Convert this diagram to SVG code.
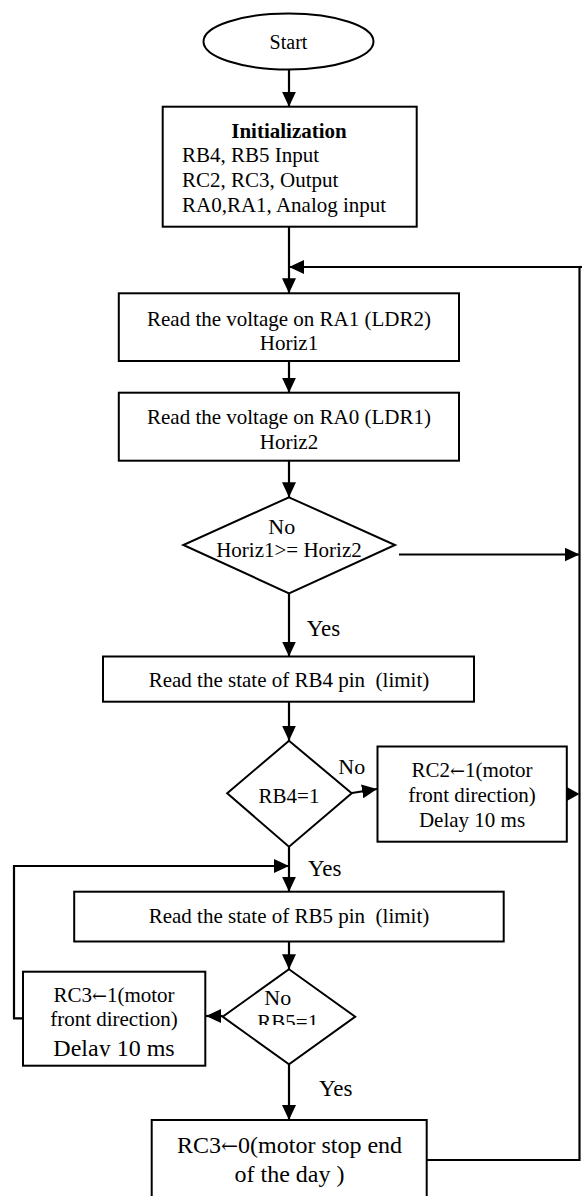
<svg xmlns="http://www.w3.org/2000/svg" width="582" height="1196" viewBox="0 0 582 1196">
<style>
text{font-family:"Liberation Serif","Times New Roman",serif;font-size:21px;fill:#000;white-space:pre}
.c{text-anchor:middle}
.b{font-weight:bold}
.lg{font-size:23px}
.xl{font-size:24px}
.arr{font-family:"DejaVu Serif","DejaVu Sans",serif;font-size:0.85em}
.shape{fill:#fff;stroke:#000;stroke-width:2}
.conn{fill:none;stroke:#000;stroke-width:2.2}
</style>
<defs>
<marker id="ah" viewBox="0 0 15 14" refX="15" refY="7" markerWidth="15" markerHeight="14" markerUnits="userSpaceOnUse" orient="auto"><path d="M0,0 L15,7 L0,14 z" fill="#000"/></marker>
<clipPath id="clipRB5"><rect x="200" y="990" width="160" height="35"/></clipPath>
<clipPath id="clipDelay"><rect x="20" y="1030" width="190" height="26.5"/></clipPath>
</defs>
<rect width="582" height="1196" fill="#fff"/>
<g id="connectors">
<line class="conn" x1="289" y1="69.5" x2="289" y2="106.7" marker-end="url(#ah)"/>
<line class="conn" x1="289" y1="226.7" x2="289" y2="293.3" marker-end="url(#ah)"/>
<path class="conn" d="M426.7,1160 H579.5 V267 H289" marker-end="url(#ah)"/>
<line class="conn" x1="579.5" y1="267" x2="582" y2="267"/>
<line class="conn" x1="289" y1="361" x2="289" y2="392.7" marker-end="url(#ah)"/>
<line class="conn" x1="289" y1="460.7" x2="289" y2="497.3" marker-end="url(#ah)"/>
<line class="conn" x1="399" y1="554.5" x2="579.5" y2="554.5" marker-end="url(#ah)"/>
<line class="conn" x1="289" y1="593.3" x2="289" y2="656.5" marker-end="url(#ah)"/>
<line class="conn" x1="289" y1="701.7" x2="289" y2="740.7" marker-end="url(#ah)"/>
<line class="conn" x1="352" y1="793" x2="377" y2="789" marker-end="url(#ah)"/>
<path d="M566.8,787 L579.5,794 L566.8,801 z" fill="#000"/>
<line class="conn" x1="289" y1="846.7" x2="289" y2="891.7" marker-end="url(#ah)"/>
<path class="conn" d="M23,1018.3 H14 V866 H289" marker-end="url(#ah)"/>
<line class="conn" x1="289" y1="941.7" x2="289" y2="969.3" marker-end="url(#ah)"/>
<line class="conn" x1="222.7" y1="1016" x2="206" y2="1016" marker-end="url(#ah)"/>
<line class="conn" x1="289" y1="1064.3" x2="289" y2="1120" marker-end="url(#ah)"/>
<text class="lg" x="306.7" y="636">Yes</text>
<text class="lg" x="308" y="876">Yes</text>
<text class="lg" x="319" y="1096">Yes</text>
<text style="font-size:22px" x="338.3" y="774">No</text>
</g>
<g id="start">
<ellipse class="shape" cx="288.5" cy="41.5" rx="85" ry="28"/>
<text class="c" style="font-size:20px" x="288.5" y="49">Start</text>
</g>
<g id="init">
<rect class="shape" x="162.7" y="106.7" width="254" height="120"/>
<text class="c b" x="289" y="137.5">Initialization</text>
<text x="182" y="162">RB4, RB5 Input</text>
<text x="182" y="187">RC2, RC3, Output</text>
<text x="182" y="212">RA0,RA1, Analog input</text>
</g>
<g id="read1">
<rect class="shape" x="118.8" y="293.3" width="340.2" height="67.7"/>
<text class="c" x="289" y="326">Read the voltage on RA1 (LDR2)</text>
<text class="c" x="289" y="350">Horiz1</text>
</g>
<g id="read2">
<rect class="shape" x="118.8" y="392.7" width="340.2" height="68"/>
<text class="c" x="289" y="424">Read the voltage on RA0 (LDR1)</text>
<text class="c" x="289" y="448.5">Horiz2</text>
</g>
<g id="cmp">
<path class="shape" d="M289,497.3 L395,545 L289,593.3 L183.3,545 Z"/>
<text class="c" style="font-size:22px" x="281.7" y="534.3">No</text>
<text class="c" x="289" y="557.3">Horiz1&gt;= Horiz2</text>
</g>
<g id="readRB4">
<rect class="shape" x="103" y="656.5" width="371" height="45.2"/>
<text class="c" x="289" y="687">Read the state of RB4 pin  (limit)</text>
</g>
<g id="rb4">
<path class="shape" d="M289,740.7 L351.7,793.3 L289,846.7 L227.2,793.3 Z"/>
<text class="c" x="289" y="802.7">RB4=1</text>
</g>
<g id="rc2">
<rect class="shape" x="377.5" y="746.5" width="189.3" height="95.2"/>
<text class="c" x="472" y="777">RC2<tspan class="arr">←</tspan>1(motor</text>
<text class="c" x="472" y="801.7">front direction)</text>
<text class="c" x="472" y="826.7">Delay 10 ms</text>
</g>
<g id="readRB5">
<rect class="shape" x="74.2" y="891.7" width="429.5" height="49.8"/>
<text class="c" x="289" y="923.3">Read the state of RB5 pin  (limit)</text>
</g>
<g id="rb5">
<path class="shape" d="M289,969.3 L355.2,1016.7 L289,1064.3 L222.7,1016.7 Z"/>
<text style="font-size:22px" x="264.3" y="1005">No</text>
<text class="c" x="287.8" y="1029" clip-path="url(#clipRB5)">RB5=1</text>
</g>
<g id="rc3">
<rect class="shape" x="23" y="971.7" width="182.3" height="94"/>
<text class="c" x="114" y="1002">RC3<tspan class="arr">←</tspan>1(motor</text>
<text class="c" x="114" y="1025.5">front direction)</text>
<text class="c xl" x="114" y="1055.5" clip-path="url(#clipDelay)">Delay 10 ms</text>
</g>
<g id="stop">
<rect class="shape" x="151.7" y="1120" width="275" height="90"/>
<text class="c xl" x="289.5" y="1153.3">RC3<tspan class="arr">←</tspan>0(motor stop end</text>
<text class="c xl" x="289.5" y="1181.7">of the day )</text>
</g>
</svg>
